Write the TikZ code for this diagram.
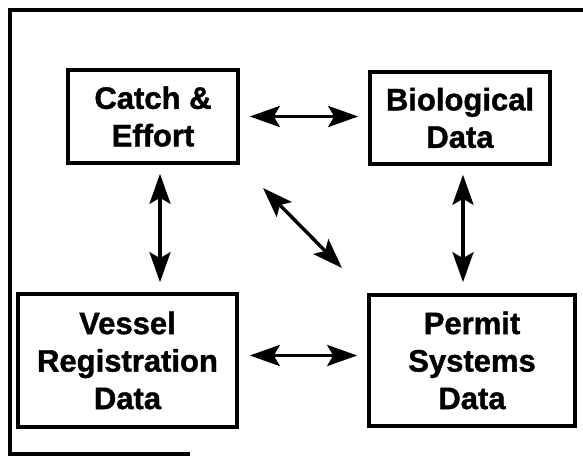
\documentclass[tikz,border=0pt]{standalone}
\usepackage{fontspec}
\setmainfont[BoldFeatures={FakeBold=1.3}]{Liberation Sans}
\usepackage{tikz}
\usetikzlibrary{positioning,arrows.meta}

\begin{document}
\begin{tikzpicture}[x=1pt,y=1pt,
    databox/.style={draw,line width=3.6pt,align=center,inner sep=0pt,
      font=\fontsize{31}{37.5}\selectfont\bfseries},
    link/.style={line width=3.4pt,
      {Stealth[length=30pt,width=21pt,inset=6pt]}-{Stealth[length=30pt,width=21pt,inset=6pt]}}]
    \useasboundingbox (0,0) rectangle (583,457);
    \draw[line width=3.2pt] (583,447) -- (10,447) -- (10,3) -- (190,3);
    \node[databox,minimum width=170pt,minimum height=93pt] (catch) at (153,340.5) {Catch \&\\Effort};
    \node[databox,minimum width=180pt,minimum height=92pt] (bio) at (460,339) {Biological\\Data};
    \node[databox,minimum width=219pt,minimum height=133pt] (vessel) at (127.5,96.5) {Vessel\\Registration\\Data};
    \node[databox,minimum width=206pt,minimum height=131pt] (permit) at (472,96.5) {Permit\\Systems\\Data};
    \coordinate (diagA) at (263,269); \coordinate (diagB) at (342,189);
    \draw[link,shorten <=10pt,shorten >=10pt] (catch.east) -- (catch.east -| bio.west);
    \draw[link,shorten <=9pt,shorten >=10pt] ([xshift=7pt]catch.south) -- ([xshift=7pt]catch.south |- vessel.north);
    \draw[link,shorten <=9pt,shorten >=11pt] ([xshift=3pt]bio.south) -- ([xshift=3pt]bio.south |- permit.north);
    \draw[link,shorten <=11pt,shorten >=10pt] ([yshift=5pt]vessel.east) -- ([yshift=5pt]vessel.east -| permit.west);
    \draw[link] (diagA) -- (diagB);
  \end{tikzpicture}
\end{document}
